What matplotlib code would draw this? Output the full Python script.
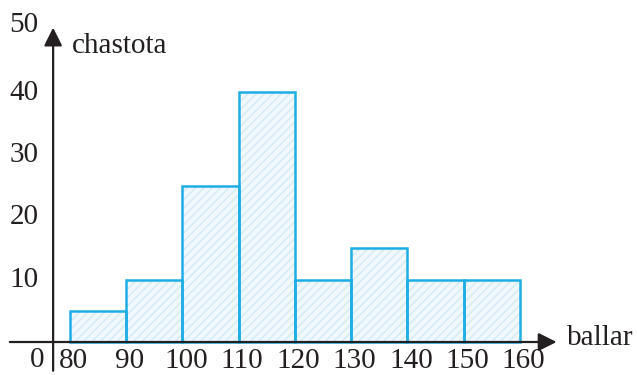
import matplotlib
matplotlib.use("Agg")
import matplotlib.pyplot as plt

# data
bin_edges = [80, 90, 100, 110, 120, 130, 140, 150, 160]
frequencies = [5, 10, 25, 40, 10, 15, 10, 10]
y_ticks = [10, 20, 30, 40, 50]
x_label = "ballar"
y_label = "chastota"

plt.rcParams['font.family'] = ['Liberation Serif', 'DejaVu Serif']

fig = plt.figure(figsize=(6.37, 3.75), dpi=100)
ax = fig.add_axes([0, 0, 1, 1])
ax.set_xlim(67.556, 180.8)
ax.set_ylim(-5.28, 54.72)
ax.axis('off')

lefts = bin_edges[:-1]
widths = [b - a for a, b in zip(bin_edges[:-1], bin_edges[1:])]

# fill with faint hatch
ax.bar(lefts, frequencies, width=widths, align='edge', color='#f0f8fd',
       edgecolor='#d3eaf6', linewidth=0, hatch='////', zorder=1)
# outline
ax.bar(lefts, frequencies, width=widths, align='edge', fill=False,
       edgecolor='#1eaee6', linewidth=1.8, zorder=2)

x0 = 77.0  # y-axis position
ink = '#231f20'
astyle = '-|>,head_length=1.1,head_width=0.55'
# x-axis
ax.annotate('', xy=(166.5, 0), xytext=(69.3, 0),
            arrowprops=dict(arrowstyle=astyle, color=ink, lw=1.6,
                            shrinkA=0, shrinkB=0), zorder=3)
# y-axis
ax.annotate('', xy=(x0, 50.3), xytext=(x0, -4.6),
            arrowprops=dict(arrowstyle=astyle, color=ink, lw=1.6,
                            shrinkA=0, shrinkB=0), zorder=3)

fs = 21
for v in y_ticks:
    dy = -0.4 if v == 50 else -1.2
    ax.text(x0 - 2.6, v + dy, str(v), ha='right', va='baseline', fontsize=fs, color=ink)
ax.text(x0 - 1.6, -4.0, '0', ha='right', va='baseline', fontsize=fs, color=ink)
for e in bin_edges:
    ax.text(e + 0.6, -4.2, str(e), ha='center', va='baseline', fontsize=fs, color=ink)

ax.text(168.3, -0.48, x_label, ha='left', va='baseline', fontsize=fs, color=ink)
ax.text(x0 + 3.4, 46.24, y_label, ha='left', va='baseline', fontsize=fs, color=ink)

fig.savefig('out.png', dpi=100)
